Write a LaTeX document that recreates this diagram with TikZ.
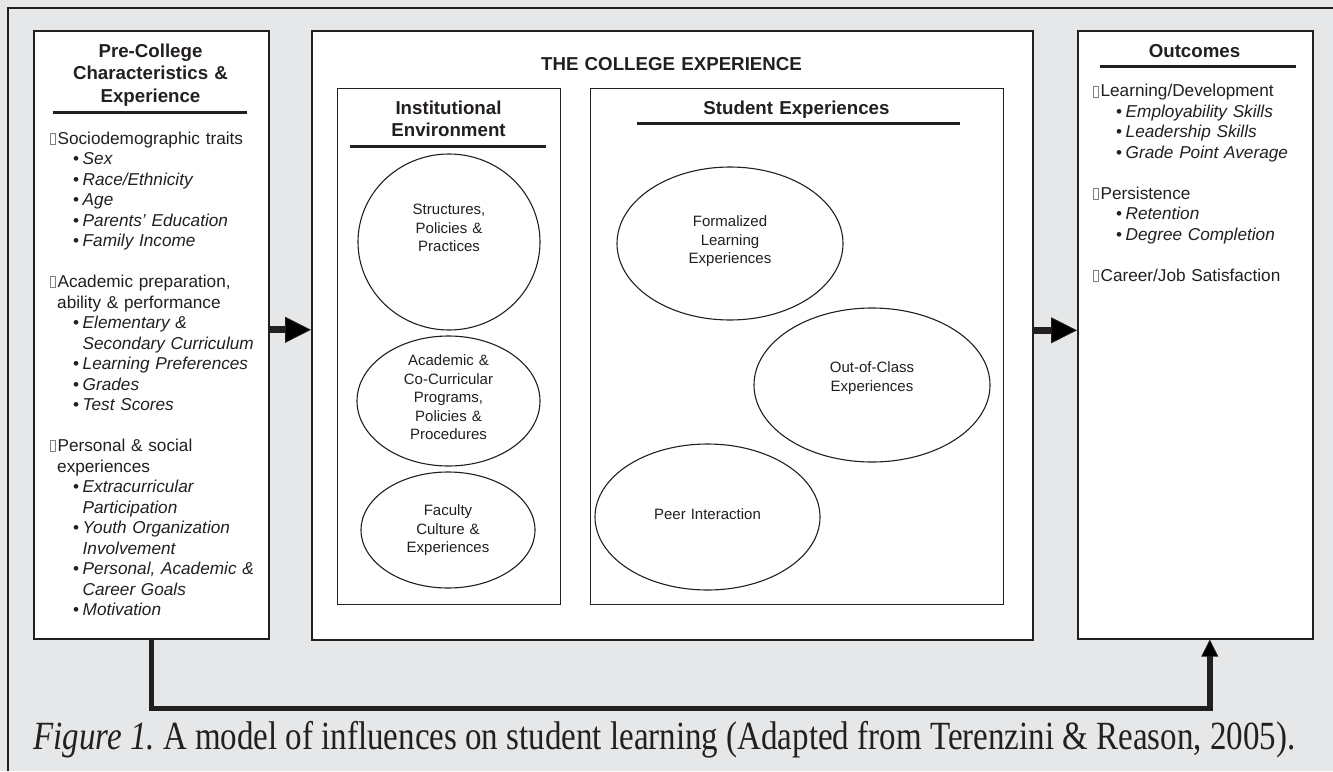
\documentclass[tikz,border=0pt]{standalone}
\usepackage{fontspec}
\setmainfont{Liberation Sans}
\newfontfamily\capfont{Liberation Serif}
\usepackage{graphicx}
\usetikzlibrary{shapes.geometric,arrows.meta}

\definecolor{bggray}{HTML}{E6E7E8}
\definecolor{ink}{HTML}{231F20}

% small hollow placeholder square in front of each list heading
\newcommand\glyphbox{\tikz[baseline=0pt]\draw[line width=0.4pt,draw=gray] (0pt,0pt) rectangle (5pt,11pt);\hspace{2pt}}
\newcommand\bul{\hspace*{23pt}\textbullet\hspace{3.5pt}}
\newcommand\cont{\hspace*{32.5pt}}

\begin{document}
\begin{tikzpicture}[x=1pt,y=-1pt,
  panel/.style={draw=ink,line width=1.6pt,fill=white,inner sep=0pt,anchor=north west},
  hdr/.style={font=\bfseries\fontsize{18.7}{22.7}\selectfont,text=ink,align=center,inner sep=0pt,anchor=base},
  rule/.style={draw=ink,line width=3pt},
  listtext/.style={font=\fontsize{17.2}{20.5}\selectfont,text=ink,align=left,inner sep=0pt,anchor=base west,text width=215pt},
  oval/.style={ellipse,draw=ink,line width=1.1pt,fill=white,inner sep=0pt},
  ovaltext/.style={font=\fontsize{15}{18.5}\selectfont,text=ink,align=center,inner sep=0pt,anchor=base,text width=170pt},
  fat/.style={draw=ink,line width=7pt,-{Triangle[length=26pt,width=26pt,line width=0.8pt]}},
  loopline/.style={draw=ink,line width=5.5pt,line join=miter,-{Triangle[length=17pt,width=17pt,line width=0.8pt]}}]

\path[use as bounding box] (0,0) rectangle (1333,771);
\fill[bggray] (0,0) rectangle (1333,771);
\draw[ink,line width=2.2pt] (8,771) -- (8,8) -- (1333,8);

% the three main panels
\node[panel,minimum width=235pt,minimum height=608pt] (pre) at (33,30) {};
\node[panel,minimum width=721pt,minimum height=609pt] (college) at (311,30) {};
\node[panel,minimum width=235pt,minimum height=608pt] (outc) at (1077,30) {};

% inner panels of the college experience
\node[panel,line width=1.3pt,minimum width=223pt,minimum height=516pt] (inst) at (337,88) {};
\node[panel,line width=1.3pt,minimum width=413pt,minimum height=516pt] (stud) at (590,88) {};

% headings
\node[hdr,text width=225pt] (prehd) at (150.5,57) {Pre-College\\Characteristics \&\\Experience};
\draw[rule] (53,112) -- (247,112);
\node[hdr,text width=400pt] (colhd) at (671.5,70.7) {THE COLLEGE EXPERIENCE};
\node[hdr,text width=210pt] (insthd) at (448.5,114) {Institutional\\Environment};
\draw[rule] (350,146) -- (546,146);
\node[hdr,text width=380pt] (studhd) at (796.5,114) {Student Experiences};
\draw[rule] (637,123) -- (960,123);
\node[hdr,text width=225pt] (outhd) at (1194.5,57) {Outcomes};
\draw[rule] (1100,66) -- (1296,66);

% pre-college list
\node[listtext] (prelist) at (50,144) {%
\glyphbox Sociodemographic traits\\
\bul\textit{Sex}\\
\bul\textit{Race/Ethnicity}\\
\bul\textit{Age}\\
\bul\textit{Parents’ Education}\\
\bul\textit{Family Income}\\[20.5pt]
\glyphbox Academic preparation,\\
\hspace*{7pt}ability \& performance\\
\bul\textit{Elementary \&}\\
\cont\textit{Secondary Curriculum}\\
\bul\textit{Learning Preferences}\\
\bul\textit{Grades}\\
\bul\textit{Test Scores}\\[20.5pt]
\glyphbox Personal \& social\\
\hspace*{7pt}experiences\\
\bul\textit{Extracurricular}\\
\cont\textit{Participation}\\
\bul\textit{Youth Organization}\\
\cont\textit{Involvement}\\
\bul\textit{Personal, Academic \&}\\
\cont\textit{Career Goals}\\
\bul\textit{Motivation}};

% outcomes list
\node[listtext] (outlist) at (1093,96.7) {%
\glyphbox Learning/Development\\
\bul\textit{Employability Skills}\\
\bul\textit{Leadership Skills}\\
\bul\textit{Grade Point Average}\\[20.5pt]
\glyphbox Persistence\\
\bul\textit{Retention}\\
\bul\textit{Degree Completion}\\[20.5pt]
\glyphbox Career/Job Satisfaction};

% institutional environment
\node[oval,minimum width=182pt,minimum height=176pt] (struct) at (449,242) {};
\node[ovaltext] (structt) at (449,214.5) {Structures,\\Policies \&\\Practices};
\node[oval,minimum width=183pt,minimum height=130pt] (acad) at (448.5,401) {};
\node[ovaltext] (acadt) at (448.5,365.5) {Academic \&\\Co-Curricular\\Programs,\\Policies \&\\Procedures};
\node[oval,minimum width=174pt,minimum height=116pt] (fac) at (448,530) {};
\node[ovaltext] (fact) at (448,515.5) {Faculty\\Culture \&\\Experiences};

% student experiences
\node[oval,minimum width=226pt,minimum height=153pt] (formal) at (730,243.5) {};
\node[ovaltext] (formalt) at (730,226.5) {Formalized\\Learning\\Experiences};
\node[oval,minimum width=236pt,minimum height=154pt] (ooc) at (872,385) {};
\node[ovaltext] (ooct) at (872,372.5) {Out-of-Class\\Experiences};
\node[oval,minimum width=225pt,minimum height=146pt] (peer) at (707.5,517) {};
\node[ovaltext] (peert) at (707.5,519.5) {Peer Interaction};

% flows between the panels
\draw[fat] ([yshift=5pt]pre.east) -- ([yshift=5pt]pre.east -| college.west);
\draw[fat] ([yshift=5pt]college.east) -- ([yshift=5pt]college.east -| outc.west);
\draw[loopline] (pre.south) -- ++(0,69) -| ([xshift=14.5pt]outc.south);

% caption
\node[anchor=base west,inner sep=0pt,text=ink,font=\capfont\fontsize{40}{40}\selectfont] (caption) at (33,749)
  {\scalebox{0.825}[1]{\textit{Figure 1.}\ A model of influences on student learning (Adapted from Terenzini \& Reason, 2005).}};
\end{tikzpicture}
\end{document}
